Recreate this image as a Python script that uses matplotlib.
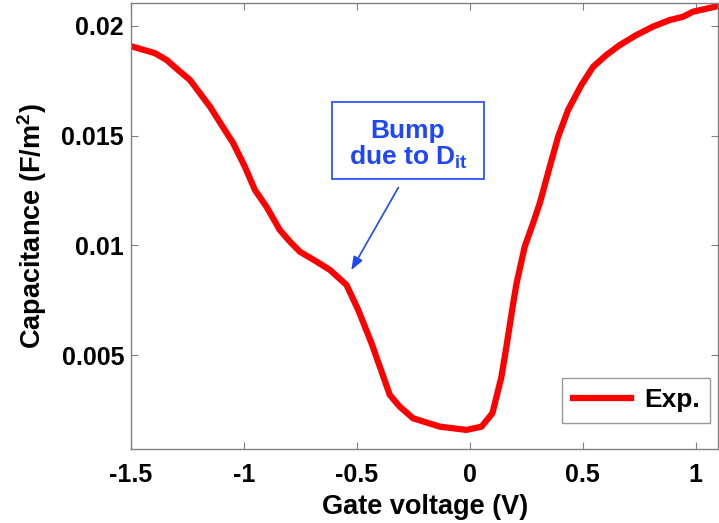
import matplotlib
matplotlib.use("Agg")
import matplotlib.pyplot as plt
from matplotlib.patches import Rectangle

plt.rcParams['font.family'] = ['Liberation Sans', 'DejaVu Sans']
plt.rcParams['font.weight'] = 'bold'
plt.rcParams['mathtext.fontset'] = 'custom'
plt.rcParams['mathtext.rm'] = 'Liberation Sans:bold'
plt.rcParams['mathtext.it'] = 'Liberation Sans:bold'
plt.rcParams['mathtext.bf'] = 'Liberation Sans:bold'
plt.rcParams['mathtext.default'] = 'regular'

# Data
gate_voltage = [-1.50, -1.394, -1.342, -1.291, -1.239, -1.150, -1.099, -1.047, -0.996, -0.951,
                -0.900, -0.841, -0.796, -0.752, -0.678, -0.619, -0.546, -0.494, -0.435, -0.398,
                -0.354, -0.310, -0.251, -0.133, -0.015, 0.052, 0.100, 0.140, 0.162, 0.192,
                0.207, 0.243, 0.280, 0.310, 0.354, 0.391, 0.435, 0.494, 0.546, 0.605,
                0.664, 0.738, 0.811, 0.885, 0.944, 0.988, 1.10]
capacitance = [0.01908, 0.01876, 0.01845, 0.01799, 0.01754, 0.01632, 0.01549, 0.01465, 0.01359, 0.01252,
               0.01176, 0.01070, 0.01017, 0.00971, 0.00926, 0.00888, 0.00820, 0.00706, 0.00554, 0.00446,
               0.00318, 0.00265, 0.00212, 0.00174, 0.00159, 0.00174, 0.00235, 0.00401, 0.00538, 0.00736,
               0.00827, 0.00994, 0.01101, 0.01193, 0.01359, 0.01495, 0.01617, 0.01731, 0.01814, 0.01868,
               0.01913, 0.01959, 0.01997, 0.02027, 0.02042, 0.02065, 0.02091]
x_ticks = [-1.5, -1, -0.5, 0, 0.5, 1]
x_tick_labels = ['-1.5', '-1', '-0.5', '0', '0.5', '1']
y_ticks = [0.005, 0.01, 0.015, 0.02]
y_tick_labels = ['0.005', '0.01', '0.015', '0.02']

fig = plt.figure(figsize=(7.19, 5.23), dpi=100)
ax = fig.add_axes([0.1822, 0.142, 0.8168, 0.8528])

ax.plot(gate_voltage, capacitance, color='#ff0000', lw=4.5, label='Exp.',
        solid_joinstyle='round')

ax.set_xlim(-1.5, 1.1)
ax.set_ylim(0.000733, 0.02106)
ax.set_xticks(x_ticks)
ax.set_xticklabels(x_tick_labels)
ax.set_yticks(y_ticks)
ax.set_yticklabels(y_tick_labels)

for s in ax.spines.values():
    s.set_color('#808080')
    s.set_linewidth(1.0)
ax.tick_params(direction='in', length=5, color='#808080', labelsize=18,
               top=True, right=True)
ax.tick_params(axis='x', pad=10)
ax.tick_params(axis='y', pad=5)
for lbl in ax.get_xticklabels() + ax.get_yticklabels():
    lbl.set_fontweight('bold')

ax.set_xlabel('Gate voltage (V)', fontsize=19.5, fontweight='bold', labelpad=5)
ax.set_ylabel('Capacitance (F/m$^{2}$)', fontsize=19.5, fontweight='bold', labelpad=9)

leg = ax.legend(loc='lower right', bbox_to_anchor=(0.9864, 0.0583), fontsize=19,
                frameon=True, fancybox=False, handlelength=2.2, handletextpad=0.5,
                borderpad=0.4, borderaxespad=0.0)
leg.get_frame().set_edgecolor('#808080')
leg.get_frame().set_linewidth(1.0)
for t in leg.get_texts():
    t.set_fontweight('bold')

blue = '#1e46ff'
ax.annotate('', xy=(-0.531, 0.00876), xytext=(-0.310, 0.01275),
            arrowprops=dict(arrowstyle='-|>,head_length=0.8,head_width=0.3',
                            color=blue, lw=1.2))
ax.add_patch(Rectangle((-0.611, 0.013026), 0.673, 0.00351, fc='white', ec=blue,
                       lw=1.2, zorder=4))
ax.text(-0.274, 0.01458, 'Bump\ndue to D$_{it}$', color=blue, fontsize=19,
        fontweight='bold', ha='center', va='center', linespacing=1.05, zorder=5)

fig.savefig('out.png', dpi=100)
